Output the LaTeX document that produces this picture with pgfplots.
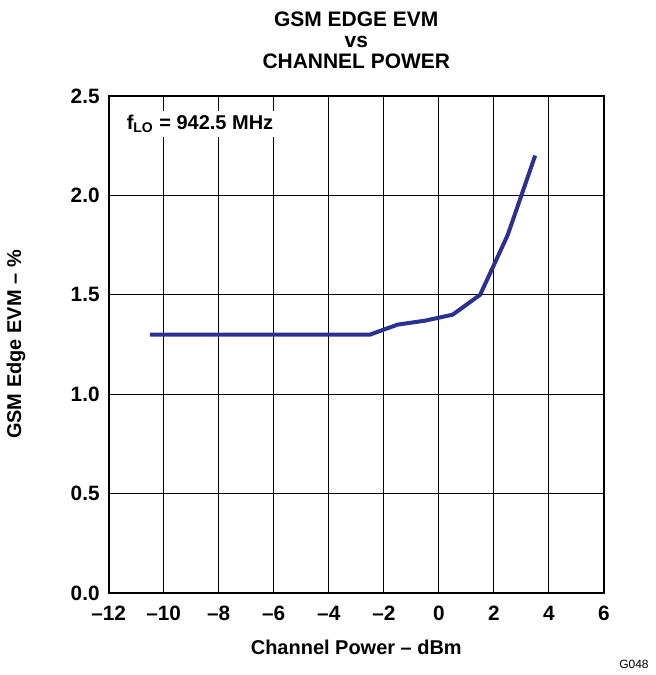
\documentclass[border=0pt]{standalone}
\usepackage{pgfplots}
\pgfplotsset{compat=1.18}
\usepackage{fontspec}
\setmainfont{Liberation Sans}
\definecolor{evmblue}{RGB}{43,48,145}
\begin{document}
\begin{tikzpicture}
\begin{axis}[
    name=ax,
    scale only axis,
    width=248pt, height=249pt,
    xmin=-12, xmax=6,
    ymin=0, ymax=2.5,
    xtick={-12,-10,...,6},
    xticklabels={\textendash12,\textendash10,\textendash8,\textendash6,\textendash4,\textendash2,0,2,4,6},
    ytick={0,0.5,...,2.5},
    yticklabels={0.0,0.5,1.0,1.5,2.0,2.5},
    major tick length=0pt,
    grid=major,
    grid style={black, line width=0.5pt},
    axis line style={line width=1pt},
    tick label style={font=\bfseries\fontsize{10.4}{12}\selectfont},
    xticklabel style={yshift=-3pt},
    yticklabel style={xshift=-1pt},
    title={GSM EDGE EVM\\vs\\CHANNEL POWER},
    title style={align=center, font=\bfseries\fontsize{10.5}{10.5}\selectfont,
        at={(rel axis cs:0.5,1)}, anchor=south, yshift=4pt},
    xlabel={Channel Power \textendash{} dBm},
    ylabel={GSM Edge EVM \textendash{} \%},
    label style={font=\bfseries\fontsize{10}{12}\selectfont},
    xlabel style={at={(rel axis cs:0.5,-0.108)}, anchor=center},
    ylabel style={at={(rel axis cs:-0.187,0.5)}, anchor=center},
]
\addplot[color=evmblue, line width=2pt, line join=round] coordinates {
    (-10.5,1.30) (-2.5,1.30) (-1.5,1.35) (-0.5,1.37) (0.5,1.40)
    (1.5,1.50) (2.5,1.80) (3.5,2.20)
};
\node[fill=white, anchor=west, inner sep=2pt, font=\bfseries\fontsize{10}{12}\selectfont]
    at (axis cs:-11.5,2.36) {f\textsubscript{LO} = 942.5 MHz};
\end{axis}
\node[anchor=center, font=\fontsize{6}{7}\selectfont] at ([xshift=15pt,yshift=-35.5pt]ax.south east) {G048};
\path ([xshift=-54pt,yshift=-40.5pt]ax.south west) rectangle ([xshift=23pt,yshift=48pt]ax.north east);
\end{tikzpicture}
\end{document}
